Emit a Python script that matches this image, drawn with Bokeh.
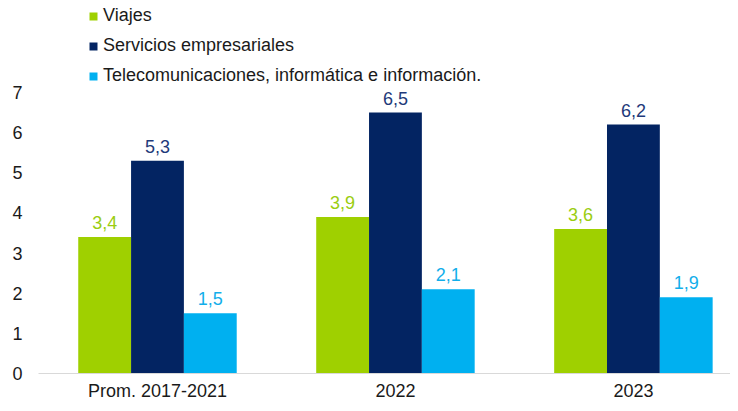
from bokeh.plotting import figure
from bokeh.models import ColumnDataSource, Legend, LegendItem, FixedTicker, Range1d
from bokeh.embed import file_html
from bokeh.resources import INLINE
from bokeh.core.properties import value

categories = ["Prom. 2017-2021", "2022", "2023"]
series_names = ["Viajes", "Servicios empresariales", "Telecomunicaciones, informática e información."]
viajes = [3.4, 3.9, 3.6]
servicios = [5.3, 6.5, 6.2]
telecom = [1.5, 2.1, 1.9]
y_ticks = [0, 1, 2, 3, 4, 5, 6, 7]

bar_colors = ["#9FD000", "#032462", "#00B0F0"]
label_colors = ["#9ACD10", "#1F3A7A", "#12AEEA"]
FONT = "Liberation Sans"

p = figure(width=730, height=403, output_backend="svg", toolbar_location=None,
           x_range=Range1d(-0.5, 2.408), y_range=Range1d(0, 9.29),
           min_border_left=38, min_border_right=0, min_border_top=0, min_border_bottom=30)
p.outline_line_color = None
p.xgrid.visible = False
p.ygrid.visible = False

bw = 0.222
offsets = [-bw, 0.0, bw]
renderers = []
for vals, off, bc, lc in zip([viajes, servicios, telecom], offsets, bar_colors, label_colors):
    xs = [i + off for i in range(len(categories))]
    src = ColumnDataSource(dict(x=xs, top=vals, lab=[f"{v:.1f}".replace(".", ",") for v in vals]))
    r = p.vbar(x="x", top="top", width=bw, bottom=0, source=src, fill_color=bc, line_color=None)
    renderers.append(r)
    p.text(x="x", y="top", text="lab", source=src, text_align="center", text_baseline="bottom",
           y_offset=-8, text_color=lc, text_font=value(FONT), text_font_size="18px")

p.xaxis.ticker = FixedTicker(ticks=list(range(len(categories))))
p.xaxis.major_label_overrides = {i: c for i, c in enumerate(categories)}
p.xaxis.axis_line_color = "#D9D9D9"
p.xaxis.axis_line_width = 1
p.xaxis.major_tick_line_color = None
p.xaxis.major_tick_out = 0
p.xaxis.major_tick_in = 0
p.xaxis.minor_tick_line_color = None
p.xaxis.major_label_standoff = 7
p.xaxis.major_label_text_font = FONT
p.xaxis.major_label_text_font_size = "18px"
p.xaxis.major_label_text_color = "#1a1a1a"

p.yaxis.ticker = FixedTicker(ticks=y_ticks)
p.yaxis.axis_line_color = None
p.yaxis.major_tick_line_color = None
p.yaxis.major_tick_out = 0
p.yaxis.major_tick_in = 0
p.yaxis.minor_tick_line_color = None
p.yaxis.major_label_standoff = 16
p.yaxis.major_label_text_font = FONT
p.yaxis.major_label_text_font_size = "18px"
p.yaxis.major_label_text_color = "#1a1a1a"

legend = Legend(items=[LegendItem(label=n, renderers=[r]) for n, r in zip(series_names, renderers)],
                location=(50, 287), orientation="vertical",
                glyph_width=10, glyph_height=10, label_height=20, spacing=9,
                label_standoff=5, padding=0, margin=0,
                border_line_color=None, background_fill_alpha=0,
                label_text_font=FONT, label_text_font_size="18px", label_text_color="#1a1a1a")
p.add_layout(legend)

open("out.html", "w").write(file_html(p, INLINE))
